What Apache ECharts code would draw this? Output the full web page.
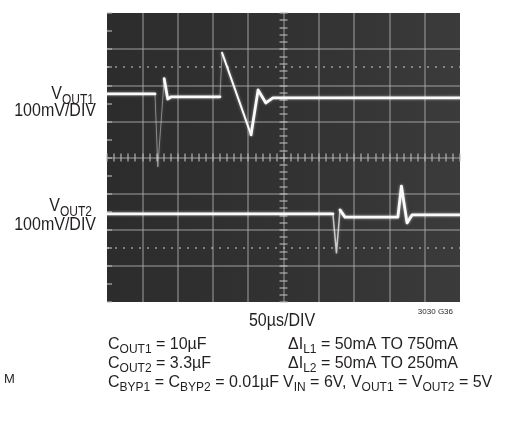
<!DOCTYPE html>
<html>
<head>
<meta charset="utf-8">
<script src="https://cdn.jsdelivr.net/npm/echarts@6/dist/echarts.min.js"></script>
<style>
  html, body { margin: 0; padding: 0; background: #ffffff; }
  #chart { width: 510px; height: 434px; }
</style>
</head>
<body>
<div id="chart"></div>
<script>
// ---- data (time in µs, 50µs/DIV; level in mV on the 100mV/DIV screen, 0 = bottom graticule) ----
const timeMin = 0, timeMax = 500, timeStep = 50;
const levelMin = 0, levelMax = 800, levelStep = 100;

const vout1Time  = [0,   68,  72,  81,  86,  91,  160, 163, 204, 214, 225, 235, 500];
const vout1Level = [576, 576, 374, 618, 562, 568, 568, 690, 463, 587, 551, 565, 565];

const vout2Time  = [0,   320, 325, 330, 337, 412, 417, 425, 432, 500];
const vout2Level = [244, 244, 136, 255, 235, 235, 321, 219, 241, 241];

const markerLevels = [150, 650];

const label1 = [["V", false], ["OUT1", true]];
const label2 = [["V", false], ["OUT2", true]];
const scaleLabel = "100mV/DIV";
const timeLabel = "50µs/DIV";
const figId = "3030 G36";
const condLeft = [
  [["C", false], ["OUT1", true], [" = 10µF", false]],
  [["C", false], ["OUT2", true], [" = 3.3µF", false]],
  [["C", false], ["BYP1", true], [" = C", false], ["BYP2", true], [" = 0.01µF", false]]
];
const condRight = [
  [["ΔI", false], ["L1", true], [" = 50mA TO 750mA", false]],
  [["ΔI", false], ["L2", true], [" = 50mA TO 250mA", false]],
  [["V", false], ["IN", true], [" = 6V, V", false], ["OUT1", true], [" = V", false], ["OUT2", true], [" = 5V", false]]
];

// ---- layout / style ----
const FONT = '"Liberation Sans", Arial, Helvetica, sans-serif';
const MAIN = 16, SUB = 12, SUBDROP = 4;
const TEXT = '#231f20';
const GRID = { left: 107, top: 13, width: 353, height: 289 };

const mctx = document.createElement('canvas').getContext('2d');
function measure(t, size) { mctx.font = size + 'px ' + FONT; return mctx.measureText(t).width; }

function textRuns(parts, x, baseline, align, mainSize, subSize, stretch) {
  mainSize = mainSize || MAIN; subSize = subSize || SUB; stretch = stretch || 1;
  const sizes = parts.map(p => p[1] ? subSize : mainSize);
  const widths = parts.map((p, i) => measure(p[0], sizes[i]));
  const total = widths.reduce((a, b) => a + b, 0);
  let cx = align === 'right' ? x - total : (align === 'center' ? x - total / 2 : x);
  const els = [];
  parts.forEach((p, i) => {
    const size = sizes[i];
    const base = baseline + (p[1] ? SUBDROP * size / SUB * stretch : 0);
    els.push({
      type: 'text', x: cx, y: base - 0.3465 * size * stretch, scaleY: stretch, silent: true,
      style: { text: p[0], font: size + 'px ' + FONT, fill: TEXT, align: 'left', verticalAlign: 'middle' }
    });
    cx += widths[i];
  });
  return els;
}

function pts(times, levels, a, b) {
  const out = [];
  for (let i = a; i <= b; i++) out.push([times[i], levels[i]]);
  return out;
}

const traceBright = 'rgba(250,250,250,1)';
const traceFaint = 'rgba(235,235,235,0.45)';
function lineSeries(data, color, width) {
  return {
    type: 'line', xAxisIndex: 0, yAxisIndex: 0, data: data, showSymbol: false, symbol: 'none',
    lineStyle: { color: color, width: width, join: 'round', cap: 'round',
      shadowColor: 'rgba(255,255,255,0.45)', shadowBlur: 3 },
    silent: true, animation: false, z: 5
  };
}

const series = [
  // full traces, faint (fast edges appear dim on the scope)
  lineSeries(pts(vout1Time, vout1Level, 0, vout1Time.length - 1), traceFaint, 1),
  lineSeries(pts(vout2Time, vout2Level, 0, vout2Time.length - 1), 'rgba(240,240,240,0.75)', 1.5),
  // bright parts
  lineSeries(pts(vout1Time, vout1Level, 0, 1), traceBright, 2.8),
  lineSeries(pts(vout1Time, vout1Level, 3, 6), traceBright, 2.8),
  lineSeries(pts(vout1Time, vout1Level, 7, 8), traceBright, 2),
  lineSeries(pts(vout1Time, vout1Level, 8, 12), traceBright, 2.8),
  lineSeries(pts(vout2Time, vout2Level, 0, 1), traceBright, 2.8),
  lineSeries(pts(vout2Time, vout2Level, 3, 9), traceBright, 2.8),
  // dotted graticule marker lines
  {
    type: 'line', data: [], silent: true, animation: false,
    markLine: {
      silent: true, symbol: 'none', animation: false, label: { show: false },
      lineStyle: { color: 'rgba(200,200,200,0.7)', width: 1.6, type: [2, 6] },
      data: markerLevels.map(v => ({ yAxis: v }))
    }
  }
];

const gridLine = { show: true, showMinLine: false, showMaxLine: false, lineStyle: { color: 'rgba(170,170,170,0.62)', width: 1.5 } };
const tickColor = 'rgba(185,185,185,0.75)';
const hidden = { show: false };

const graphics = [];
graphics.push(...textRuns(label1, 94, 100, 'right', 16, 12, 1.18));
graphics.push(...textRuns([[scaleLabel, false]], 96, 117, 'right', 16, 12, 1.18));
graphics.push(...textRuns(label2, 92, 212, 'right', 16, 12, 1.18));
graphics.push(...textRuns([[scaleLabel, false]], 96, 231, 'right', 16, 12, 1.18));
graphics.push(...textRuns([[figId, false]], 453, 315, 'right', 8));
graphics.push(...textRuns([[timeLabel, false]], 282, 327, 'center', 16, 12, 1.15));
const rowBase = [350, 369, 388];
condLeft.forEach((row, i) => graphics.push(...textRuns(row, 108, rowBase[i], 'left')));
condRight.forEach((row, i) => graphics.push(...textRuns(row, i === 2 ? 283 : 288, rowBase[i], 'left')));
graphics.push(...textRuns([["M", false]], 4, 384, 'left', 13));

const chart = echarts.init(document.getElementById('chart'), null, { renderer: 'canvas' });
chart.setOption({
  animation: false,
  backgroundColor: '#ffffff',
  grid: {
    left: GRID.left, top: GRID.top, width: GRID.width, height: GRID.height,
    show: true, borderWidth: 0,
    backgroundColor: new echarts.graphic.LinearGradient(0, 0, 1, 0, [
      { offset: 0, color: '#2c2c2c' }, { offset: 0.6, color: '#333333' }, { offset: 1, color: '#3b3b3b' }
    ])
  },
  xAxis: [
    { type: 'value', min: timeMin, max: timeMax, interval: timeStep, axisLine: hidden, axisTick: hidden, axisLabel: hidden, splitLine: gridLine },
    { type: 'value', min: timeMin, max: timeMax, interval: timeStep / 5, position: 'bottom', offset: -GRID.height / 2,
      axisLine: hidden, axisLabel: hidden, splitLine: hidden,
      axisTick: { show: true, inside: true, length: 4, lineStyle: { color: tickColor, width: 1.5 } } },
    { type: 'value', min: timeMin, max: timeMax, interval: timeStep / 5, position: 'bottom', offset: -GRID.height / 2,
      axisLine: hidden, axisLabel: hidden, splitLine: hidden,
      axisTick: { show: true, inside: false, length: 4, lineStyle: { color: tickColor, width: 1.5 } } }
  ],
  yAxis: [
    { type: 'value', min: levelMin, max: levelMax, interval: levelStep, axisLine: hidden, axisLabel: hidden, splitLine: gridLine,
      axisTick: { show: true, inside: true, length: 5, lineStyle: { color: tickColor, width: 1.5 } },
      minorTick: { show: true, splitNumber: 2, length: 5, lineStyle: { color: tickColor, width: 1.5 } } },
    { type: 'value', min: levelMin, max: levelMax, interval: levelStep / 5, position: 'left', offset: -GRID.width / 2,
      axisLine: hidden, axisLabel: hidden, splitLine: hidden,
      axisTick: { show: true, inside: true, length: 4, lineStyle: { color: tickColor, width: 1.5 } } },
    { type: 'value', min: levelMin, max: levelMax, interval: levelStep / 5, position: 'left', offset: -GRID.width / 2,
      axisLine: hidden, axisLabel: hidden, splitLine: hidden,
      axisTick: { show: true, inside: false, length: 4, lineStyle: { color: tickColor, width: 1.5 } } }
  ],
  series: series,
  graphic: graphics
});
</script>
</body>
</html>
